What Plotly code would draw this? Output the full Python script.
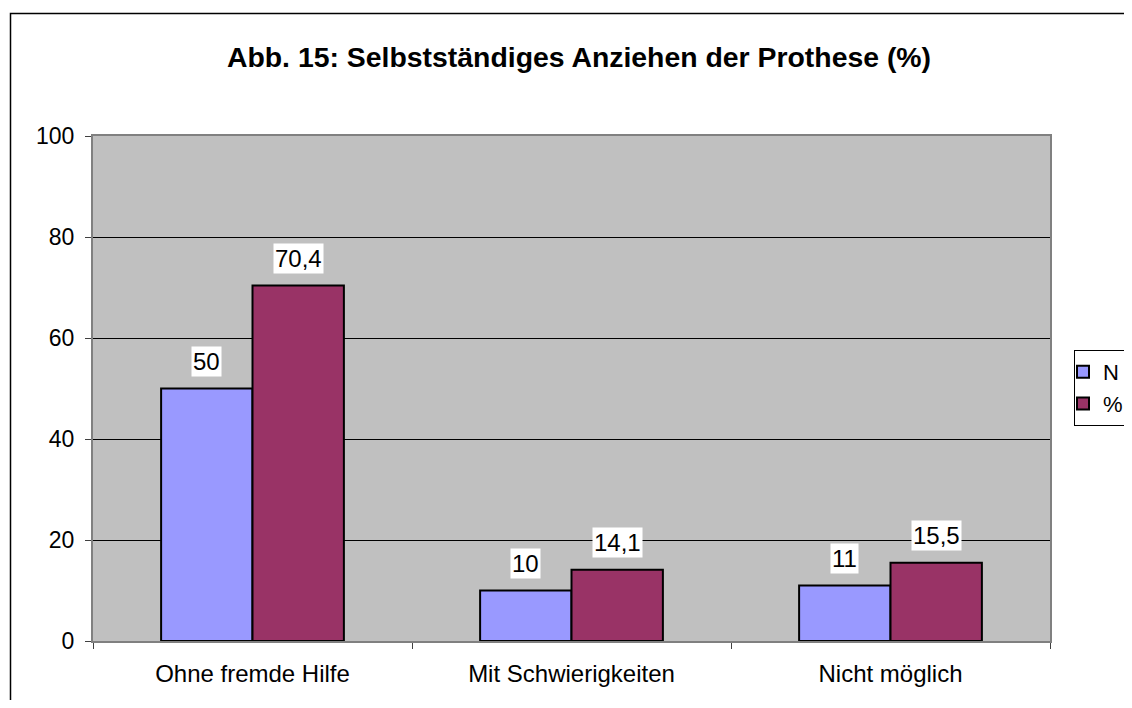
import plotly.graph_objects as go

categories = ["Ohne fremde Hilfe", "Mit Schwierigkeiten", "Nicht möglich"]
n_values = [50, 10, 11]
pct_values = [70.4, 14.1, 15.5]
n_labels = ["50", "10", "11"]
pct_labels = ["70,4", "14,1", "15,5"]
y_ticks = [0, 20, 40, 60, 80, 100]

OFF = 8  # default page body margin
W, H = 1132 - 2 * OFF, 708 - 2 * OFF   # keep page free of scrollbars
L, T = 93 - OFF, 136 - OFF
R = W - (1050 - OFF)
B = H - (641 - OFF)
pw, ph = W - L - R, H - T - B

fig = go.Figure()
fig.add_trace(go.Bar(name="N", x=categories, y=n_values,
                     marker=dict(color="#9999FF", line=dict(color="black", width=2))))
fig.add_trace(go.Bar(name="%", x=categories, y=pct_values,
                     marker=dict(color="#993366", line=dict(color="black", width=2))))

bargap = 0.427
barw_px = (1 - bargap) / 2 * pw / len(categories)
for vals, labs, sgn in [(n_values, n_labels, -1), (pct_values, pct_labels, 1)]:
    for c, v, t in zip(categories, vals, labs):
        fig.add_annotation(x=c, y=v, text=t, showarrow=False, xshift=sgn * barw_px / 2,
                           yshift=27, yanchor="middle", bgcolor="white", borderpad=1,
                           font=dict(family="Liberation Sans, Arial", size=24, color="black"))

# outer chart border
fig.add_shape(type="rect", xref="paper", yref="paper",
              x0=(10.5 - OFF - L) / pw, x1=(W + 20 - L) / pw,
              y0=-(B + 20) / ph, y1=(H - B - (13.5 - OFF)) / ph,
              line=dict(color="black", width=1.5), layer="below")

fig.update_layout(
    width=W, height=H,
    margin=dict(l=L, r=R, t=T, b=B),
    paper_bgcolor="white", plot_bgcolor="#C0C0C0",
    barmode="group", bargap=bargap, bargroupgap=0,
    font=dict(family="Liberation Sans, Arial", size=23, color="black"),
    title=dict(text="<b>Abb. 15: Selbstständiges Anziehen der Prothese (%)</b>",
               x=(579 - OFF) / W, xanchor="center", y=1 - (57 - OFF) / H, yanchor="middle",
               font=dict(size=28.4)),
    legend=dict(xref="container", yref="container",
                x=(1074 - OFF) / W, xanchor="left", y=1 - (350 - OFF) / H, yanchor="top",
                bordercolor="black", borderwidth=1, bgcolor="white",
                font=dict(size=22), itemwidth=30, indentation=-12),
    xaxis=dict(type="category", tickson="boundaries", ticks="outside", ticklen=6,
               tickcolor="#404040", showline=True, linecolor="#808080", linewidth=2,
               mirror=True, showgrid=False, tickfont=dict(size=24),
               ticklabelstandoff=10),
    yaxis=dict(range=[0, 100], tickvals=y_ticks, ticks="outside", ticklen=6,
               tickcolor="#404040", showline=True, linecolor="#808080", linewidth=2,
               mirror=True, showgrid=True, gridcolor="black", gridwidth=1,
               zeroline=False, tickfont=dict(size=23), ticklabelstandoff=6),
)

fig.write_html("out.html")
